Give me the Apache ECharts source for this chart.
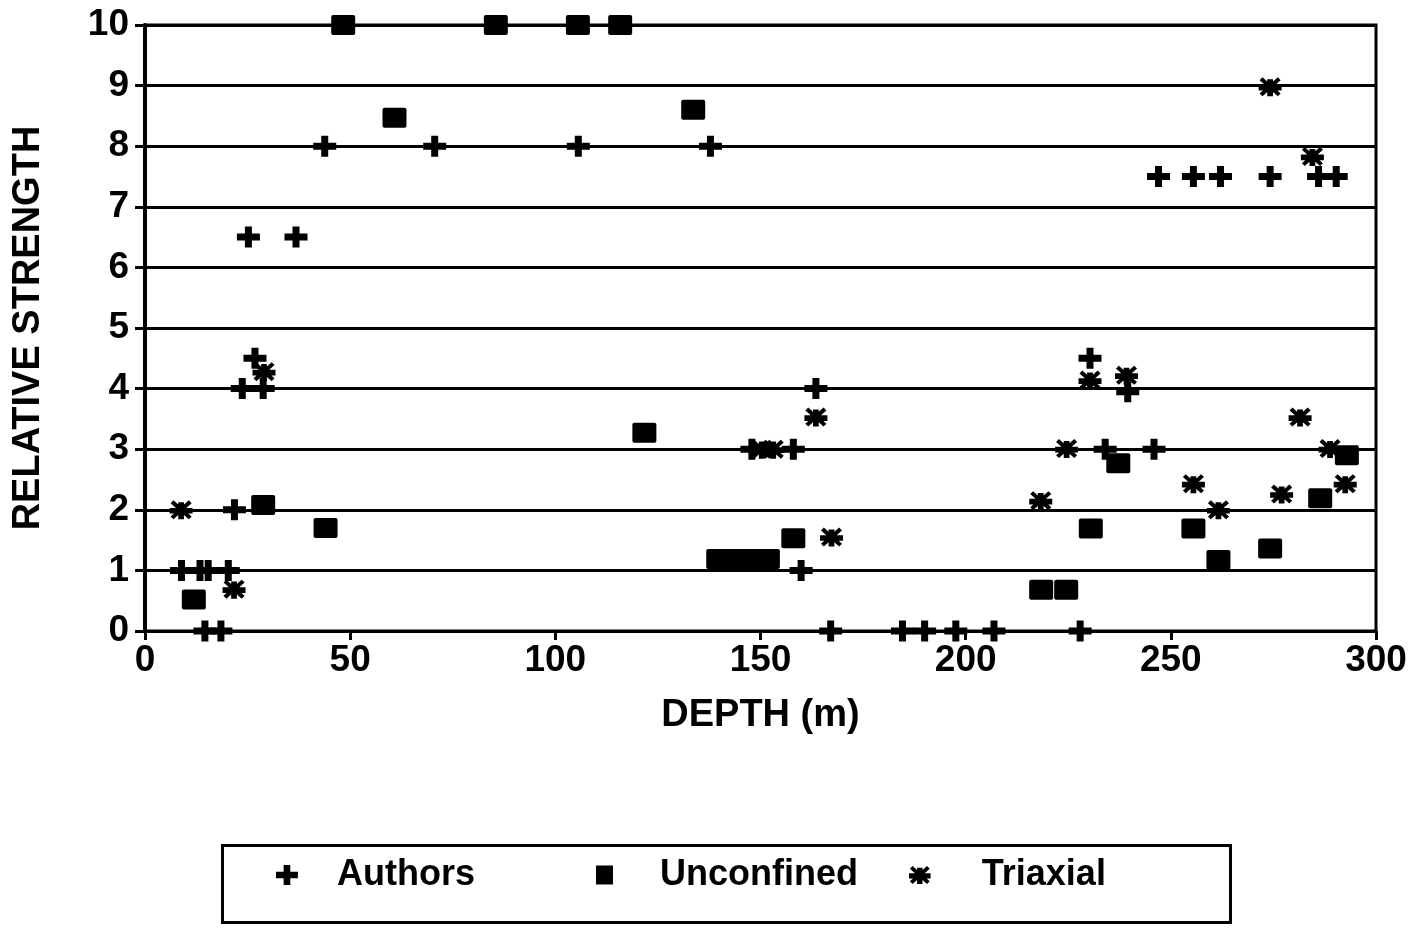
<!DOCTYPE html>
<html>
<head>
<meta charset="utf-8">
<script src="https://cdn.jsdelivr.net/npm/echarts@6/dist/echarts.min.js"></script>
<style>
html,body{margin:0;padding:0;background:#fff;}
#chart{width:1421px;height:928px;}
</style>
</head>
<body>
<div id="chart"></div>
<script>
// ---- data: [depth (m), relative strength] ----
const authors = [
  [14.6,0],[18.5,0],[167.1,0],[184.6,0],[190,0],[197.6,0],[206.9,0],[227.9,0],
  [8.9,1],[13.4,1],[15.4,1],[20.3,1],[159.9,1],
  [21.8,2],
  [147.9,3],[158,3],[234,3],[245.9,3],
  [23.7,4],[28.8,4],[163.5,4],[239.5,3.95],
  [26.8,4.5],[230.3,4.5],
  [25.2,6.5],[36.8,6.5],
  [247,7.5],[255.5,7.5],[262.1,7.5],[274.2,7.5],[286,7.5],[290.3,7.5],
  [43.8,8],[70.6,8],[105.6,8],[137.8,8]
];
const unconfined = [
  [48.3,10],[85.5,10],[105.5,10],[115.8,10],
  [60.8,8.47],[133.6,8.6],
  [121.7,3.27],
  [28.8,2.08],[44,1.7],[11.9,0.52],
  [139.7,1.19],[143.8,1.19],[147.7,1.19],[151.8,1.19],
  [158,1.53],
  [218.4,0.68],[224.5,0.68],
  [230.5,1.69],[237.2,2.77],[255.5,1.69],[261.6,1.17],[274.2,1.36],[286.4,2.19],[292.9,2.9]
];
const triaxial = [
  [8.8,2],[21.7,0.69],[29,4.28],
  [150.3,3],[153.1,3],[163.5,3.53],[167.3,1.55],
  [218.3,2.15],[224.6,3.01],[230.3,4.14],[239.2,4.22],
  [255.5,2.43],[261.6,2.0],[277,2.26],[281.5,3.53],[288.8,3.01],[292.5,2.43],
  [274.2,8.98],[284.5,7.83]
];
const seriesNames = ['Authors','Unconfined','Triaxial'];
const xTitle = 'DEPTH (m)';
const yTitle = 'RELATIVE STRENGTH';

const PLUS = 'path://M8,0 L15,0 L15,7 L23,7 L23,14 L15,14 L15,21 L8,21 L8,14 L0,14 L0,7 L8,7 Z';
const STAR = 'path://M0,8 L24,8 L24,14 L0,14 Z M1,3 L4,0 L23,17 L20,20 Z M20,0 L23,3 L4,20 L1,17 Z M9,2 L15,2 L15,20 L9,20 Z';
const SQUARE = 'path://M2,0 L22,0 Q24,0 24,2 L24,18 Q24,20 22,20 L2,20 Q0,20 0,18 L0,2 Q0,0 2,0 Z';
const FONT = '"Liberation Sans", Arial, sans-serif';

const chart = echarts.init(document.getElementById('chart'));
const legendText = {fontFamily: FONT, fontWeight: 'bold', fontSize: 36, color: '#000', lineHeight: 44};
chart.setOption({
  animation: false,
  backgroundColor: '#fff',
  grid: {left: 145, right: 45, top: 25, bottom: 297, show: true, borderColor: '#000', borderWidth: 3, backgroundColor: 'transparent'},
  xAxis: {
    type: 'value', min: 0, max: 300, interval: 50,
    name: xTitle, nameLocation: 'middle', nameGap: 66,
    nameTextStyle: {fontFamily: FONT, fontWeight: 'bold', fontSize: 38, color: '#000'},
    axisLine: {show: true, lineStyle: {color: '#000', width: 3}},
    axisTick: {show: true, length: 9, lineStyle: {color: '#000', width: 3}},
    axisLabel: {fontFamily: FONT, fontWeight: 'bold', fontSize: 37, color: '#000', margin: 11},
    splitLine: {show: false}
  },
  yAxis: {
    type: 'value', min: 0, max: 10, interval: 1,
    name: yTitle, nameLocation: 'middle', nameGap: 97, nameRotate: 90,
    nameTextStyle: {fontFamily: FONT, fontWeight: 'bold', fontSize: 38, color: '#000'},
    axisLine: {show: true, lineStyle: {color: '#000', width: 4}},
    axisTick: {show: true, length: 10, lineStyle: {color: '#000', width: 3}},
    axisLabel: {fontFamily: FONT, fontWeight: 'bold', fontSize: 37, color: '#000', margin: 16},
    splitLine: {show: true, lineStyle: {color: '#000', width: 3}}
  },
  legend: [
    {data: ['Authors'], left: 271, top: 848, itemWidth: 24, itemHeight: 20, textStyle: Object.assign({padding: [0,0,0,33]}, legendText)},
    {data: [{name: 'Unconfined', icon: 'rect'}], left: 591, top: 848, itemWidth: 17, itemHeight: 19, textStyle: Object.assign({padding: [0,0,0,42]}, legendText)},
    {data: ['Triaxial'], left: 904, top: 848, itemWidth: 22, itemHeight: 18, textStyle: Object.assign({padding: [0,0,0,46]}, legendText)}
  ],
  graphic: [
    {type: 'rect', left: 220, top: 843, shape: {width: 1008, height: 77}, style: {fill: 'none', stroke: '#000', lineWidth: 3}, silent: true}
  ],
  series: [
    {name: seriesNames[0], type: 'scatter', data: authors, symbol: PLUS, symbolSize: [23, 21], itemStyle: {color: '#000', opacity: 1}, z: 3},
    {name: seriesNames[1], type: 'scatter', data: unconfined, symbol: SQUARE, symbolSize: [24, 20], itemStyle: {color: '#000', opacity: 1}, z: 3},
    {name: seriesNames[2], type: 'scatter', data: triaxial, symbol: STAR, symbolSize: [23, 19], itemStyle: {color: '#000', opacity: 1}, z: 3}
  ]
});
</script>
</body>
</html>
